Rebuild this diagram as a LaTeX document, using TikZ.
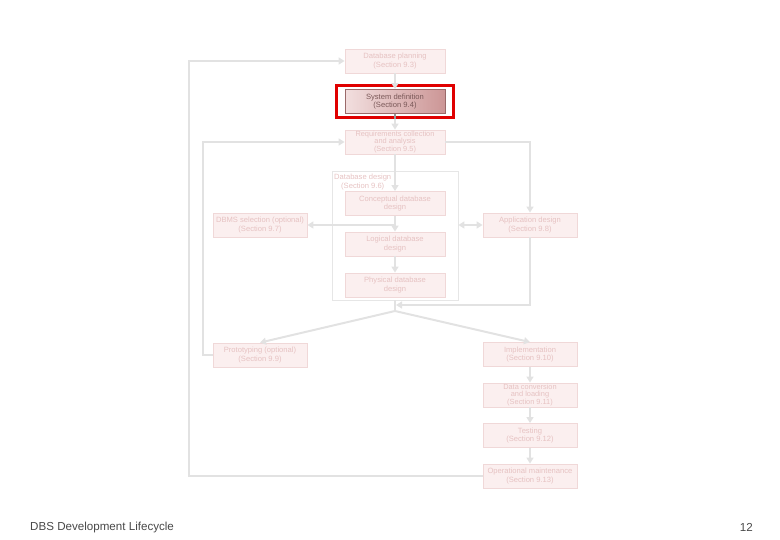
\documentclass[tikz,border=0pt]{standalone}
\usepackage{fontspec}
\setmainfont{Liberation Sans}
\usetikzlibrary{arrows.meta}
\definecolor{boxfill}{HTML}{FBEFEF}
\definecolor{boxline}{HTML}{F0D8D8}
\definecolor{boxtext}{HTML}{E6C2C2}
\definecolor{conncol}{HTML}{E2E2E2}
\definecolor{framecol}{HTML}{E6E6E6}
\definecolor{hlleft}{HTML}{F2DFDF}
\definecolor{hlright}{HTML}{CC9696}
\definecolor{hlline}{HTML}{9A6A6A}
\definecolor{hltext}{HTML}{7A5858}
\definecolor{footcol}{HTML}{484848}
\tikzset{
  stagebox/.style={draw=boxline, fill=boxfill, text=boxtext, line width=0.8pt,
    font=\fontsize{7.6}{8.3}\selectfont, align=center, inner sep=0pt,
    minimum width=100pt, minimum height=24pt},
  tribox/.style={font=\fontsize{7.4}{7.5}\selectfont},
  sidebox/.style={stagebox, minimum width=94pt},
  hlbox/.style={stagebox, draw=hlline, left color=hlleft, right color=hlright, text=hltext},
  conn/.style={draw=conncol, line width=2pt},
  arr/.style={conn, -{Triangle[width=7pt,length=6pt]}},
  darr/.style={conn, {Triangle[width=7pt,length=6pt]}-{Triangle[width=7pt,length=6pt]}},
}
\begin{document}
\begin{tikzpicture}[x=1pt,y=-1pt]
\useasboundingbox (0,0) rectangle (780,540);
% database design frame
\node[draw=framecol, line width=0.8pt, minimum width=126pt, minimum height=129pt, inner sep=0pt] (frame) at (395,235.5) {};
\node[anchor=north west, text=boxtext, font=\fontsize{7.6}{8.3}\selectfont, align=left, inner sep=0pt] (framelbl) at (334,174) {Database design\\\hspace*{7pt}(Section 9.6)};
% boxes
\node[stagebox] (plan) at (395,61) {Database planning\\(Section 9.3)};
\node[hlbox] (sys) at (395,101.5) {System definition\\(Section 9.4)};
\node[stagebox, tribox] (req) at (395,142) {Requirements collection\\and analysis\\(Section 9.5)};
\node[stagebox] (conc) at (395,203.5) {Conceptual database\\design};
\node[stagebox] (logi) at (395,244) {Logical database\\design};
\node[stagebox] (phys) at (395,285) {Physical database\\design};
\node[sidebox] (dbms) at (260,225) {DBMS selection (optional)\\(Section 9.7)};
\node[sidebox] (app) at (530,225) {Application design\\(Section 9.8)};
\node[sidebox] (proto) at (260,355) {Prototyping (optional)\\(Section 9.9)};
\node[sidebox] (impl) at (530,354.5) {Implementation\\(Section 9.10)};
\node[sidebox, tribox] (conv) at (530,395) {Data conversion\\and loading\\(Section 9.11)};
\node[sidebox] (test) at (530,435.5) {Testing\\(Section 9.12)};
\node[sidebox] (oper) at (530,476) {Operational maintenance\\(Section 9.13)};
% highlight frame
\node[draw={rgb,255:red,224;green,0;blue,0}, line width=3.6pt, minimum width=117pt, minimum height=32pt, inner sep=0pt] (hl) at (395,101.5) {};
% coordinates
\coordinate (jdbms) at (395,225);
\coordinate (japp) at (396,305);
\coordinate (split) at (395,311);
% connectors
\draw[arr] (oper.west) -- ++(-294,0) |- (plan.west);
\draw[arr] (proto.west) -- ++(-10,0) |- (req.west);
\draw[arr] (req.east) -| (app.north);
\draw[arr] (plan.south) -- (sys.north);
\draw[arr] (sys.south) -- (req.north);
\draw[draw=gray!80, line width=2pt] (sys.south) -- (hl.south);
\draw[arr] (req.south) -- (conc.north);
\draw[arr] (conc.south) -- (logi.north);
\draw[arr] (jdbms) -- (dbms.east);
\draw[darr] (app.west -| frame.east) -- (app.west);
\draw[arr] (logi.south) -- (phys.north);
\draw[conn] (frame.south) -- (split);
\draw[arr] (app.south) |- (japp);
\draw[arr] (split) -- (proto.north);
\draw[arr] (split) -- (impl.north);
\draw[arr] (impl.south) -- (conv.north);
\draw[arr] (conv.south) -- (test.north);
\draw[arr] (test.south) -- (oper.north);
% footer
\node[anchor=west, text=footcol, font=\fontsize{11.6}{13}\selectfont, inner sep=0pt] (foot) at (30,527) {DBS Development Lifecycle};
\node[anchor=east, text=footcol, font=\fontsize{11.6}{13}\selectfont, inner sep=0pt] (page) at (753,527) {12};
\end{tikzpicture}
\end{document}
